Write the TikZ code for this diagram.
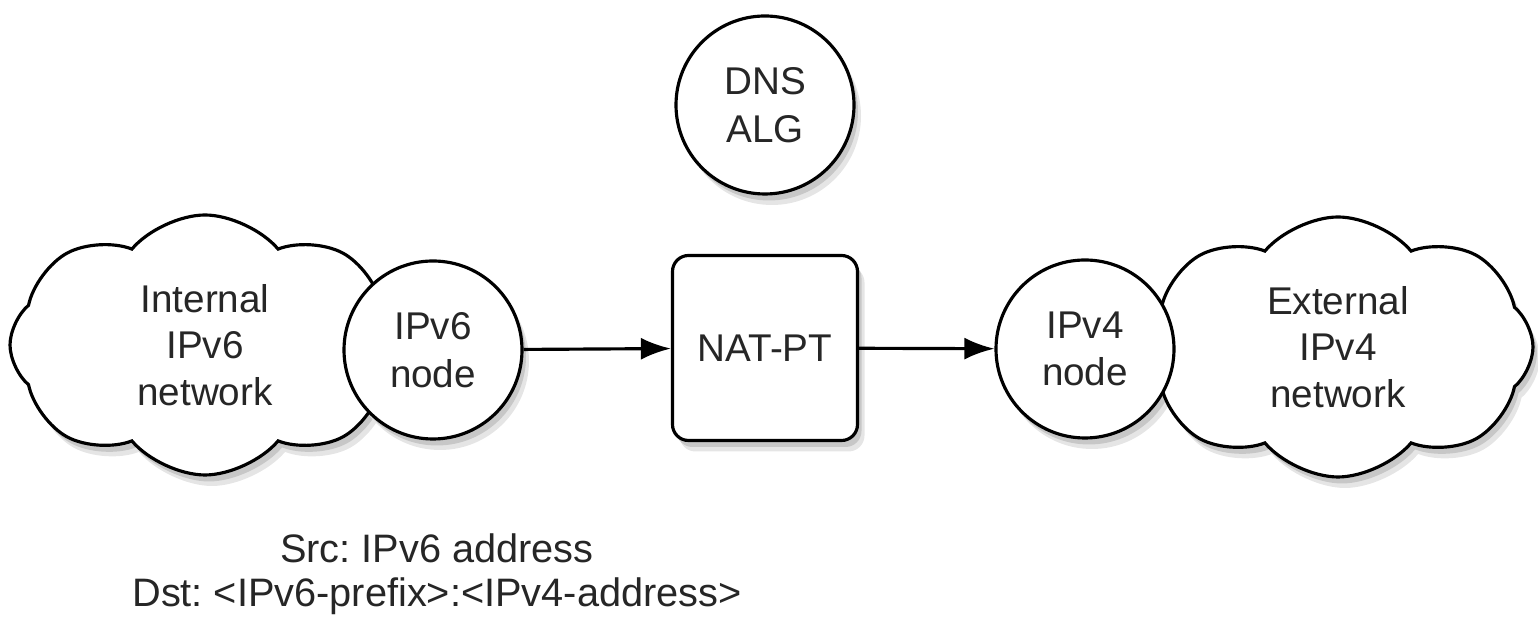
\documentclass[tikz,border=0pt]{standalone}
\usepackage{fontspec}
\setmainfont{Liberation Sans}
\usepackage{tikz}
\usetikzlibrary{arrows.meta}
\usetikzlibrary{shapes.symbols}
\usetikzlibrary{backgrounds}
\frenchspacing

\begin{document}
\begin{tikzpicture}[
        >={Latex[length=3mm, width=2.2mm]},
        host/.style={circle, draw, fill=white, line width=0.9pt, minimum size=1.78cm,
            align=center, inner sep=0pt, font=\fontsize{11}{13.5}\selectfont, text=black!85},
        box/.style={rectangle, draw, fill=white, line width=0.9pt, rounded corners=0.16cm,
            minimum size=1.85cm, font=\fontsize{11}{13.5}\selectfont, text=black!85},
        net/.style={cloud, cloud puffs=8, cloud puff arc=100, cloud ignores aspect, draw, fill=white,
            line width=0.9pt, minimum width=3.9cm, minimum height=2.6cm, align=center,
            font=\fontsize{11}{13.2}\selectfont, text=black!85},
        ombre/.style={draw=none, fill=black!#1},
        every edge/.append style={draw, ->, line width=0.9pt}
    ]
    \useasboundingbox (0,0) rectangle (15.38,6.24);

    % -- Position des reseaux --
    \node[net] (lan6) at (2.05,2.79) {Internal\\IPv6\\network};
    \node[net] (wan4) at (13.38,2.77) {External\\IPv4\\network};

    % -- Position des noeuds --
    \node[host] (dns)   at (7.65,5.19) {DNS\\ALG};
    \node[box]  (nat)   at (7.65,2.76) {NAT-PT};
    \node[host] (ipv6)  at (4.33,2.74) {IPv6\\node};
    \node[host] (ipv4)  at (10.85,2.75) {IPv4\\node};

    % -- Ombres --
    \begin{pgfonlayer}{background}
        \foreach \n/\s in {lan6/net, wan4/net, dns/host, nat/box, ipv6/host, ipv4/host} {
            \node[\s, ombre=10] at ([shift={(0.07,-0.11)}]\n.center) {};
            \node[\s, ombre=22] at ([shift={(0.04,-0.065)}]\n.center) {};
        }
    \end{pgfonlayer}

    % -- Position des arcs --
    % ipv6 -> nat :
    \draw (ipv6) edge (nat);

    % nat -> ipv4 :
    \draw (nat) edge (ipv4);

    % -- Adresses --
    \node[align=center, font=\fontsize{11.3}{12.4}\selectfont, text=black!85] (addr) at (4.37,0.5)
        {Src: IPv6 address\\Dst: <IPv6-prefix>:<IPv4-address>};

\end{tikzpicture}
\end{document}
